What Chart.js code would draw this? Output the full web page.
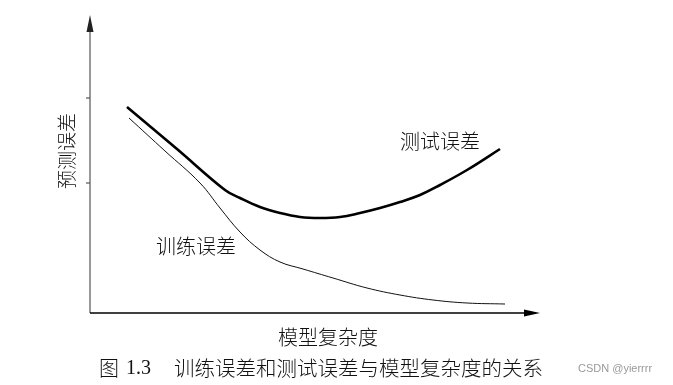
<!DOCTYPE html>
<html>
<head>
<meta charset="utf-8">
<script src="https://cdn.jsdelivr.net/npm/chart.js@4.4.1/dist/chart.umd.min.js"></script>
<style>
  html, body { margin: 0; padding: 0; background: #fff; }
  #wrap { width: 673px; height: 385px; }
</style>
</head>
<body>
<div id="wrap"><canvas id="c" width="673" height="385"></canvas></div>
<script>
// values (x = model complexity, y = prediction error)
const testX  = [37, 87, 135, 150, 170, 190, 210, 230, 250, 270, 290, 310, 330, 350, 377, 410];
const testY  = [206, 164, 123, 115, 106, 100, 96, 95, 96, 100, 105, 111, 118, 128, 143, 164];
const trainX = [39, 75, 110, 130, 150, 170, 190, 213, 243, 277, 310, 343, 377, 415];
const trainY = [195, 162, 130, 105, 81, 63, 51, 44, 35, 25, 18, 13, 10, 9];
const yTickValues = [215, 130];

const curveLabels = ['测试误差', '训练误差'];
const curveLabelX = [350, 106];
const curveLabelY = [172, 67];

const xTitle = '模型复杂度';
const yTitle = '预测误差';
const caption = '训练误差和测试误差与模型复杂度的关系';

const cjk = '"Noto Sans CJK SC", "Noto Sans CJK JP", sans-serif';

function pts(xs, ys) {
    return xs.map((x, i) => ({x: x, y: ys[i]}));
}

// axes with arrows, ticks and all the text
const decor = {
    id: 'decor',
    afterDraw(chart) {
        const ctx = chart.ctx;
        const a = chart.chartArea;
        const xs = chart.scales.x, ys = chart.scales.y;
        ctx.save();

        // y axis
        ctx.strokeStyle = '#555';
        ctx.lineWidth = 1.2;
        ctx.beginPath();
        ctx.moveTo(a.left, a.bottom);
        ctx.lineTo(a.left, a.top + 12);
        ctx.stroke();
        ctx.fillStyle = '#222';
        ctx.beginPath();
        ctx.moveTo(a.left, a.top);
        ctx.lineTo(a.left - 3.5, a.top + 17);
        ctx.lineTo(a.left + 3.5, a.top + 17);
        ctx.closePath();
        ctx.fill();

        // y ticks
        yTickValues.forEach(v => {
            const py = ys.getPixelForValue(v);
            ctx.beginPath();
            ctx.moveTo(a.left - 4, py);
            ctx.lineTo(a.left, py);
            ctx.stroke();
        });

        // x axis
        ctx.strokeStyle = '#000';
        ctx.lineWidth = 1.3;
        ctx.beginPath();
        ctx.moveTo(a.left, a.bottom);
        ctx.lineTo(a.right - 12, a.bottom);
        ctx.stroke();
        ctx.fillStyle = '#000';
        ctx.beginPath();
        ctx.moveTo(a.right, a.bottom);
        ctx.lineTo(a.right - 16, a.bottom - 3.5);
        ctx.lineTo(a.right - 16, a.bottom + 3.5);
        ctx.closePath();
        ctx.fill();

        // curve labels
        ctx.fillStyle = '#111';
        ctx.textAlign = 'center';
        ctx.textBaseline = 'middle';
        ctx.font = '300 20px ' + cjk;
        curveLabels.forEach((t, i) => {
            ctx.fillText(t, xs.getPixelForValue(curveLabelX[i]), ys.getPixelForValue(curveLabelY[i]));
        });

        // axis titles
        ctx.fillText(xTitle, 328, 337);
        ctx.save();
        ctx.translate(67, 151);
        ctx.rotate(-Math.PI / 2);
        ctx.font = '300 19px ' + cjk;
        ctx.fillText(yTitle, 0, 0);
        ctx.restore();

        // caption
        ctx.textAlign = 'left';
        ctx.font = '300 20px ' + cjk;
        ctx.fillText('图', 99, 368);
        ctx.font = '20px "Liberation Serif", serif';
        ctx.fillText('1.3', 126, 369);
        ctx.font = '300 20.5px ' + cjk;
        ctx.fillText(caption, 174, 368);

        // watermark
        ctx.fillStyle = '#999';
        ctx.font = '11px "Liberation Sans", Arial, sans-serif';
        ctx.fillText('CSDN @yierrrr', 578, 369);
        ctx.restore();
    }
};

new Chart(document.getElementById('c'), {
    type: 'scatter',
    data: {
        datasets: [{
            label: '测试误差',
            data: pts(testX, testY),
            showLine: true,
            borderColor: '#000',
            borderWidth: 2.6,
            pointRadius: 0,
            tension: 0.4,
            clip: false
        }, {
            label: '训练误差',
            data: pts(trainX, trainY),
            showLine: true,
            borderColor: '#111',
            borderWidth: 1,
            pointRadius: 0,
            tension: 0.4,
            clip: false
        }]
    },
    options: {
        responsive: false,
        animation: false,
        layout: { padding: { left: 90, right: 133, top: 15, bottom: 72 } },
        plugins: { legend: { display: false }, tooltip: { enabled: false } },
        scales: {
            x: {
                type: 'linear', min: 0, max: 450,
                ticks: { display: false },
                grid: { display: false, drawTicks: false },
                border: { display: false }
            },
            y: {
                type: 'linear', min: 0, max: 298,
                ticks: { display: false },
                grid: { display: false, drawTicks: false },
                border: { display: false }
            }
        }
    },
    plugins: [decor]
});
</script>
</body>
</html>
